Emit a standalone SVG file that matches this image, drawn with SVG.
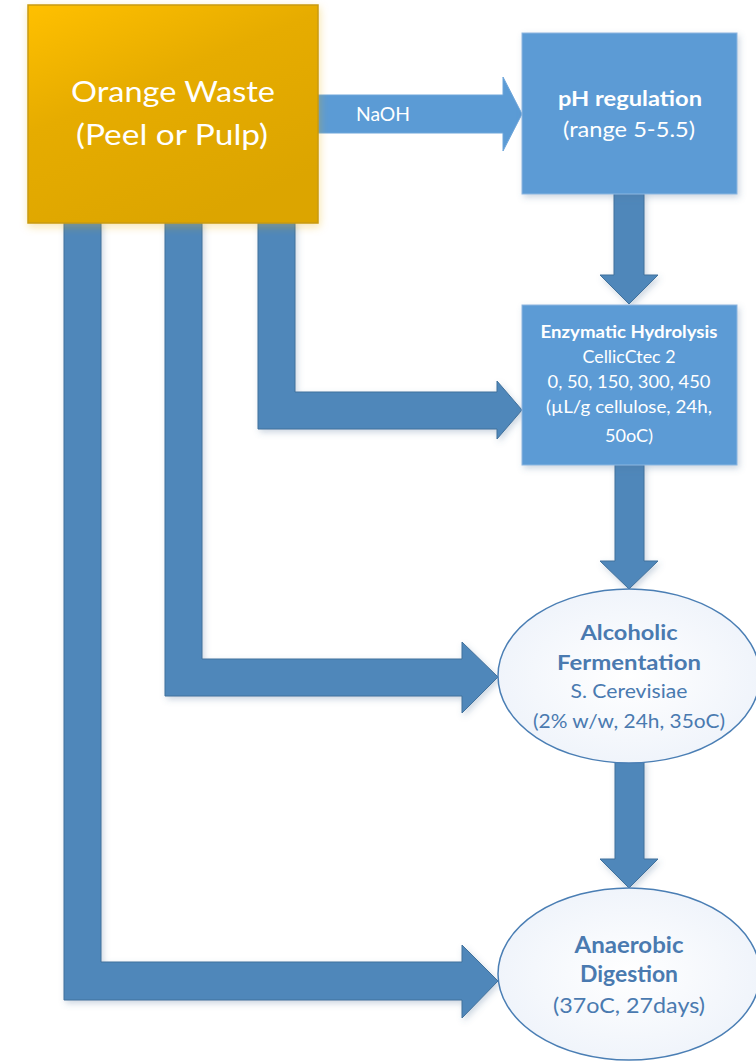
<svg xmlns="http://www.w3.org/2000/svg" width="756" height="1061" viewBox="0 0 756 1061">
<defs>
<linearGradient id="gOrange" x1="0" y1="0" x2="0.55" y2="1">
<stop offset="0" stop-color="#FFC000"/>
<stop offset="0.45" stop-color="#E6AC00"/>
<stop offset="1" stop-color="#DCA500"/>
</linearGradient>
<radialGradient id="gEll" cx="0.5" cy="0.5" r="0.6">
<stop offset="0" stop-color="#FFFFFF"/>
<stop offset="1" stop-color="#EDF2FA"/>
</radialGradient>
<filter id="sh" x="-10%" y="-10%" width="130%" height="130%">
<feDropShadow dx="2" dy="3" stdDeviation="3" flood-color="#4a6f94" flood-opacity="0.28"/>
</filter>
<filter id="shO" x="-10%" y="-10%" width="130%" height="130%">
<feDropShadow dx="1" dy="3" stdDeviation="4" flood-color="#E8B020" flood-opacity="0.35"/>
</filter>
</defs>
<style>
.arr{fill:#4F87BA;stroke:#41719C;stroke-width:1;filter:url(#sh)}
.arrL{fill:#5B9BD5;stroke:#6FA6DA;stroke-width:1}
.box{fill:#5B9BD5;stroke:#8DB6E0;stroke-width:1;filter:url(#sh)}
.ell{fill:url(#gEll);stroke:#4A7EB4;stroke-width:1.5}
.t{font-family:Lato,"Noto Sans","Liberation Sans",sans-serif;text-anchor:middle}
.w{fill:#FFFFFF}
.b{fill:#4A7AB0}
.bold{font-weight:bold}
</style>
<rect width="756" height="1061" fill="#FFFFFF"/>
<g id="connectors">
<polygon class="arr" points="64,220 101,220 101,962 462,962 462,945 498,981 462,1018 462,1000 64,1000"/>
<polygon class="arr" points="165,220 202,220 202,659 462,659 462,642 498,677 462,713 462,696 165,696"/>
<polygon class="arr" points="258,220 295,220 295,392 497,392 497,381 522,410 497,439 497,429 258,429"/>
<polygon class="arrL" points="316,95 503,95 503,77 522,114 503,151 503,133 316,133"/>
<text class="t w" x="383" y="121" font-size="20" textLength="54" lengthAdjust="spacingAndGlyphs">NaOH</text>
<polygon class="arr" points="614,192 644,192 644,275 658,275 629,304 600,275 614,275"/>
<polygon class="arr" points="615,463 644,463 644,561 658,561 629,589 600,561 615,561"/>
<polygon class="arr" points="615,760 644,760 644,859 658,859 629,888 600,859 615,859"/>
</g>
<g id="orange-waste">
<rect x="28" y="5" width="290" height="218" fill="url(#gOrange)" stroke="#C99A10" stroke-width="1.5" filter="url(#shO)"/>
<text class="t w" x="173" y="102" font-size="29" textLength="204" lengthAdjust="spacingAndGlyphs">Orange Waste</text>
<text class="t w" x="172" y="145" font-size="29" textLength="192" lengthAdjust="spacingAndGlyphs">(Peel or Pulp)</text>
</g>
<g id="ph-regulation">
<rect class="box" x="522" y="33" width="215" height="161"/>
<text class="t w bold" x="630" y="106" font-size="20.5" textLength="144" lengthAdjust="spacingAndGlyphs">pH regulation</text>
<text class="t w" x="629" y="137" font-size="20.5" textLength="132" lengthAdjust="spacingAndGlyphs">(range 5-5.5)</text>
</g>
<g id="enzymatic-hydrolysis">
<rect class="box" x="522" y="305" width="215" height="160"/>
<text class="t w bold" x="629" y="338" font-size="16.5" textLength="177" lengthAdjust="spacingAndGlyphs">Enzymatic Hydrolysis</text>
<text class="t w" x="629" y="363" font-size="16.5" textLength="93" lengthAdjust="spacingAndGlyphs">CellicCtec 2</text>
<text class="t w" x="629" y="388" font-size="16.5" textLength="163" lengthAdjust="spacingAndGlyphs">0, 50, 150, 300, 450</text>
<text class="t w" x="629" y="413" font-size="16.5" textLength="166" lengthAdjust="spacingAndGlyphs">(µL/g cellulose, 24h,</text>
<text class="t w" x="629" y="442" font-size="16.5" textLength="48" lengthAdjust="spacingAndGlyphs">50oC)</text>
</g>
<g id="alcoholic-fermentation">
<ellipse class="ell" cx="629" cy="676" rx="131" ry="87"/>
<text class="t b bold" x="629" y="640" font-size="21.5" textLength="97" lengthAdjust="spacingAndGlyphs">Alcoholic</text>
<text class="t b bold" x="629" y="670" font-size="21.5" textLength="144" lengthAdjust="spacingAndGlyphs">Fermentation</text>
<text class="t b" x="629" y="698" font-size="18.5" textLength="117" lengthAdjust="spacingAndGlyphs">S. Cerevisiae</text>
<text class="t b" x="629" y="728" font-size="18.5" textLength="192" lengthAdjust="spacingAndGlyphs">(2% w/w, 24h, 35oC)</text>
</g>
<g id="anaerobic-digestion">
<ellipse class="ell" cx="629" cy="974" rx="131" ry="86"/>
<text class="t b bold" x="629" y="953" font-size="22" textLength="109" lengthAdjust="spacingAndGlyphs">Anaerobic</text>
<text class="t b bold" x="629" y="982" font-size="22" textLength="98" lengthAdjust="spacingAndGlyphs">Digestion</text>
<text class="t b" x="629" y="1013" font-size="21" textLength="152" lengthAdjust="spacingAndGlyphs">(37oC, 27days)</text>
</g>
</svg>
